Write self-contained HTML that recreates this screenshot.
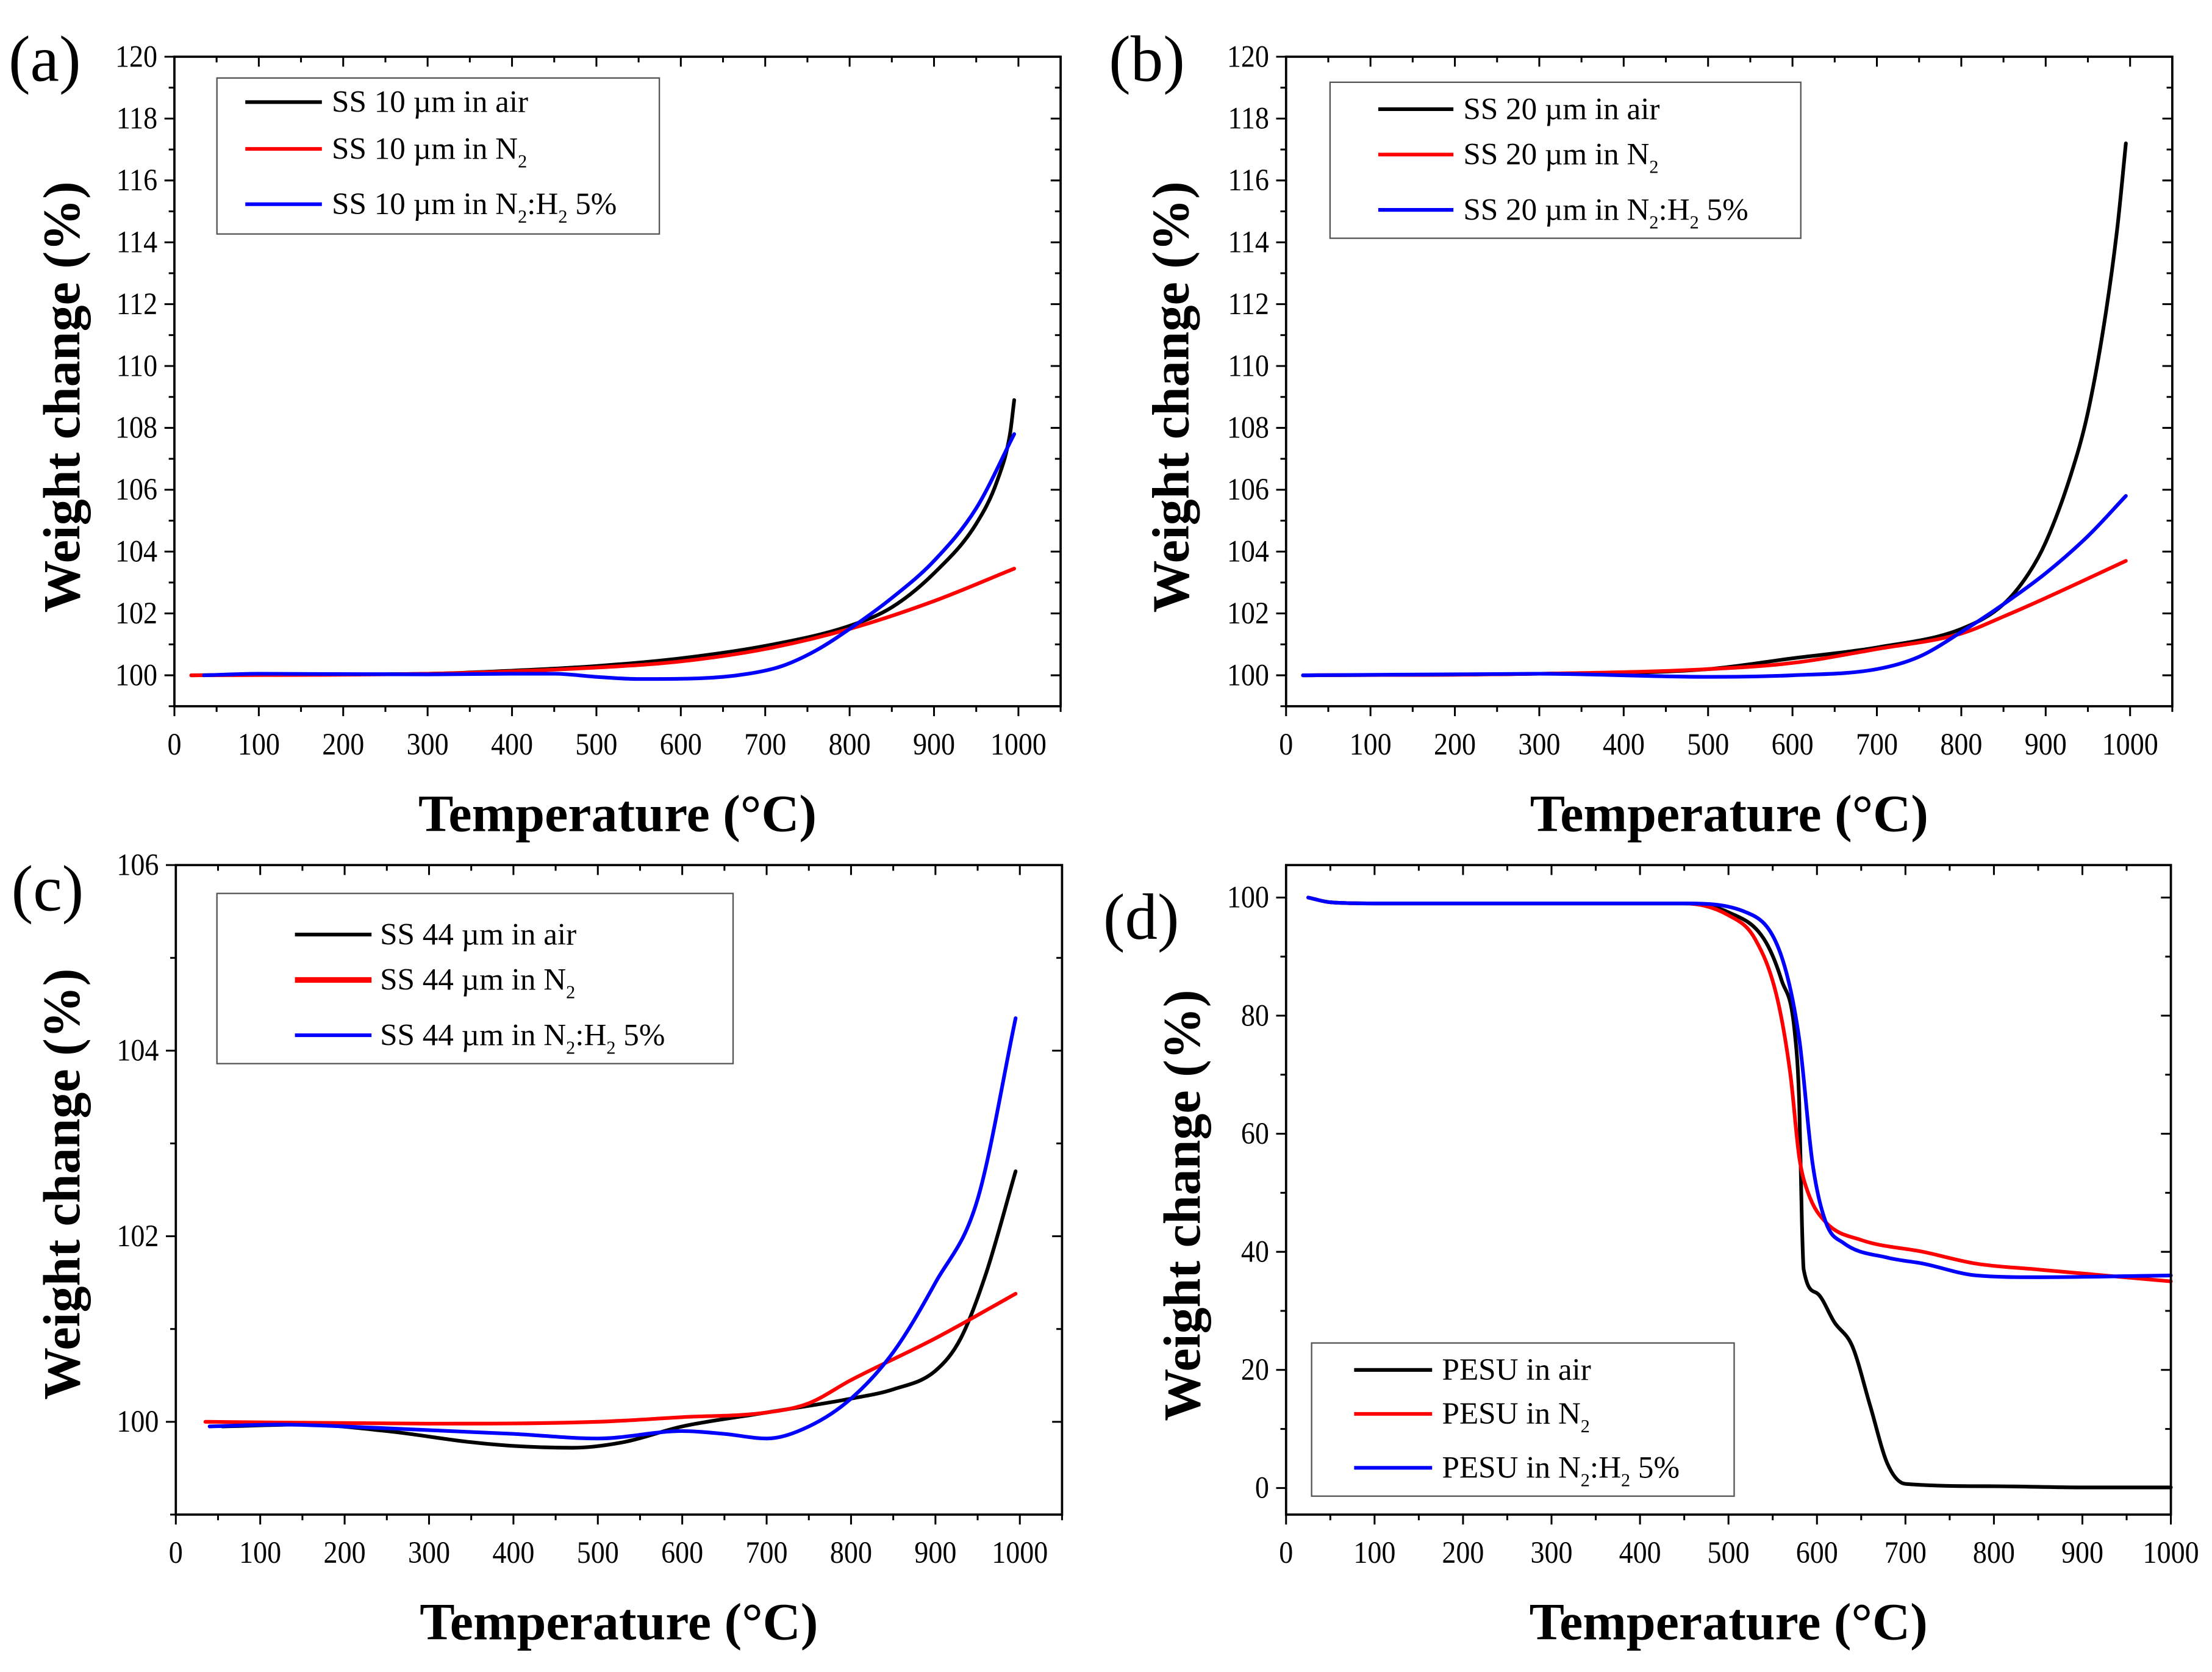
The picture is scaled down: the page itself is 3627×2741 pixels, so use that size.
<!DOCTYPE html>
<html><head><meta charset="utf-8"><style>
html,body{margin:0;padding:0;background:#fff;}
svg{display:block;}
text{font-family:"Liberation Serif",serif;fill:#000;}
</style></head><body>
<svg id="fig" width="3627" height="2741" viewBox="0 0 1560 1179" preserveAspectRatio="none" xmlns="http://www.w3.org/2000/svg"></svg>
<script>
// Panel (a) data
const aAirX=[20,100,300,400,500,600,700,800,850,900,950,975,990,995];
const aAirY=[100,100.02,100.05,100.15,100.3,100.55,100.95,101.6,102.2,103.3,104.9,106.3,107.8,108.9];
const aN2X=[20,300,500,600,700,800,900,995];
const aN2Y=[100,100.05,100.25,100.45,100.85,101.5,102.4,103.45];
const aH2X=[35,100,300,400,450,500,550,620,680,720,760,800,850,900,950,995];
const aH2Y=[100,100.05,100.03,100.05,100.05,99.95,99.88,99.9,100.05,100.3,100.8,101.5,102.5,103.7,105.4,107.8];
// Panel (b) data
const bAirX=[20,300,500,600,700,800,850,880,900,930,950,970,985,995];
const bAirY=[100,100.05,100.2,100.55,100.9,101.5,102.3,103.3,104.3,106.5,108.5,111.5,114.5,117.2];
const bN2X=[20,300,500,600,700,800,850,900,995];
const bN2Y=[100,100.05,100.2,100.4,100.85,101.35,101.9,102.5,103.7];
const bH2X=[20,300,500,600,700,750,800,850,900,950,995];
const bH2Y=[100,100.05,99.95,100,100.2,100.6,101.4,102.3,103.3,104.5,105.8];
// Panel (c) data
const cAirX=[55,150,250,350,400,470,530,600,700,800,850,900,930,960,995];
const cAirY=[99.95,99.97,99.9,99.78,99.74,99.72,99.78,99.95,100.1,100.25,100.35,100.55,100.9,101.6,102.7];
const cN2X=[35,300,500,600,700,750,800,900,995];
const cN2Y=[100,99.98,100,100.05,100.1,100.2,100.45,100.9,101.38];
const cH2X=[40,120,250,400,500,600,650,700,750,800,850,900,950,995];
const cH2Y=[99.95,99.97,99.93,99.87,99.82,99.9,99.87,99.82,99.95,100.25,100.75,101.5,102.4,104.35];
// Panel (d) data
const dAirX=[25,50,100,450,500,540,560,575,580,583,585,600,620,640,660,680,700,800,900,1000];
const dAirY=[100,99.2,99,99,97.5,93,86,77,65,45,37,33,28,24,14,4,0.7,0.3,0.1,0.1];
const dN2X=[25,50,100,450,500,530,555,570,580,590,610,650,720,780,850,1000];
const dN2Y=[100,99.2,99,99,97,93,83,70,56,50,45,42,40,38,37,35];
const dH2X=[25,50,100,450,520,560,580,595,610,630,680,720,780,850,1000];
const dH2Y=[100,99.2,99,99,97.5,90,76,55,45,41.5,39,38,36,35.7,36];
// Tick labels
const abYTicks=[100,102,104,106,108,110,112,114,116,118,120];
const cYTicks=[100,102,104,106];
const dYTicks=[0,20,40,60,80,100];
const xTicks=[0,100,200,300,400,500,600,700,800,900,1000];

const NS="http://www.w3.org/2000/svg";
const svg=document.getElementById('fig');
function mk(tag,attrs,parent){const e=document.createElementNS(NS,tag);for(const k in attrs)e.setAttribute(k,attrs[k]);(parent||svg).appendChild(e);return e;}

// monotone cubic path (Fritsch-Carlson) in screen coords
function monoPath(px,py){
  const n=px.length;
  if(n<2)return '';
  const d=[],m=[];
  for(let i=0;i<n-1;i++)d.push((py[i+1]-py[i])/(px[i+1]-px[i]));
  m[0]=d[0];m[n-1]=d[n-2];
  for(let i=1;i<n-1;i++){m[i]=(d[i-1]*d[i]<=0)?0:(d[i-1]+d[i])/2;}
  for(let i=0;i<n-1;i++){
    if(d[i]===0){m[i]=0;m[i+1]=0;continue;}
    const a=m[i]/d[i],b=m[i+1]/d[i],s=a*a+b*b;
    if(s>9){const t=3/Math.sqrt(s);m[i]=t*a*d[i];m[i+1]=t*b*d[i];}
  }
  let p='M'+px[0].toFixed(2)+','+py[0].toFixed(2);
  for(let i=0;i<n-1;i++){
    const h=(px[i+1]-px[i])/3;
    p+=' C'+(px[i]+h).toFixed(2)+','+(py[i]+m[i]*h).toFixed(2)+' '+(px[i+1]-h).toFixed(2)+','+(py[i+1]-m[i+1]*h).toFixed(2)+' '+px[i+1].toFixed(2)+','+py[i+1].toFixed(2);
  }
  return p;
}

function panel(p){
  const g=mk('g',{});
  
  
  const X=v=>p.x0+(v-p.xmin)/(p.xmax-p.xmin)*(p.x1-p.x0);
  const Y=v=>p.y1-(v-p.ymin)/(p.ymax-p.ymin)*(p.y1-p.y0);
  for(let v=p.xmin;v<=p.xmax+1e-9;v+=50){
    const major=Math.round(v)%100===0;
    const t=mk('line',{x1:X(v),x2:X(v),y1:p.y1,y2:p.y1+(major?7:4),stroke:'#000','stroke-width':1.3},g);
    
    const t2=mk('line',{x1:X(v),x2:X(v),y1:p.y0,y2:p.y0+(major?7:4),stroke:'#000','stroke-width':1.3},g);
    
  }
  xTicks.forEach(v=>{
    const t=mk('text',{x:X(v),y:p.y1+34,'text-anchor':'middle','font-size':22,transform:'translate('+X(v)+',0) scale(0.9,1) translate('+(-X(v))+',0)'},g);
    t.textContent=v;
    
  });
  for(let v=Math.ceil(p.ymin/p.minor)*p.minor;v<=p.ymax+1e-9;v+=p.minor){
    const major=Math.abs(v/p.major-Math.round(v/p.major))<1e-6;
    const t=mk('line',{x1:p.x0,x2:p.x0-(major?7:4),y1:Y(v),y2:Y(v),stroke:'#000','stroke-width':1.3},g);
    
    const t2=mk('line',{x1:p.x1,x2:p.x1-(major?7:4),y1:Y(v),y2:Y(v),stroke:'#000','stroke-width':1.3},g);
    
  }
  p.yTicks.forEach(v=>{
    const xr=p.x0-12;
    const t=mk('text',{x:xr,y:Y(v)+7,'text-anchor':'end','font-size':22,transform:'translate('+xr+',0) scale(0.9,1) translate('+(-xr)+',0)'},g);
    t.textContent=v;
    
  });
  p.series.forEach(s=>{
    const l=mk('path',{d:monoPath(s.x.map(X),s.y.map(Y)),fill:'none',stroke:s.c,'stroke-width':2.6,'stroke-linejoin':'round','stroke-linecap':'round'},g);
    
  });
  const f=mk('rect',{x:p.x0,y:p.y0,width:p.x1-p.x0,height:p.y1-p.y0,fill:'none',stroke:'#000','stroke-width':1.6},g);
  
  const xt=mk('text',{x:(p.x0+p.x1)/2,y:p.y1+88,'text-anchor':'middle','font-size':37,'font-weight':'bold'},g);
  xt.textContent='Temperature (°C)';
  
  const yt=mk('text',{x:0,y:0,'text-anchor':'middle','font-size':37,'font-weight':'bold',transform:'translate('+p.ytx+','+p.yty+') rotate(-90)'},g);
  yt.textContent='Weight change (%)';
  
  const pl=mk('text',{x:p.lx,y:p.ly,'font-size':46},g);
  pl.textContent='('+p.id+')';
  
  const L=p.leg;
  const lg=mk('g',{},g);
  
  mk('rect',{x:L.x,y:L.y,width:L.w,height:L.h,fill:'#fff',stroke:'#555','stroke-width':1},lg);
  p.series.forEach((s,i)=>{
    const e=mk('g',{},lg);
    
    mk('line',{x1:L.lx1,x2:L.lx2,y1:L.ys[i],y2:L.ys[i],stroke:s.c,'stroke-width':i===1&&p.id==='c'?4:2.6},e);
    const t=mk('text',{x:L.tx,y:L.ys[i]+7,'font-size':22},e);
    s.lab.forEach(part=>{
      const ts=mk('tspan',{},t);
      if(part.sub){ts.setAttribute('font-size','13');ts.setAttribute('dy','6');}
      else if(part.after){ts.setAttribute('dy','-6');}
      ts.textContent=part.t;
    });
  });
}
function labs(prefix){
  return [
    [{t:prefix+' in air'}],
    [{t:prefix+' in N'},{t:'2',sub:true}],
    [{t:prefix+' in N'},{t:'2',sub:true},{t:':H',after:true},{t:'2',sub:true},{t:' 5%',after:true}]
  ];
}
function ser(ax,ay,nx,ny,hx,hy,prefix){
  const L=labs(prefix);
  return [{x:ax,y:ay,c:'#000',name:'series-air',lab:L[0]},
          {x:nx,y:ny,c:'#ff0000',name:'series-n2',lab:L[1]},
          {x:hx,y:hy,c:'#0000ff',name:'series-n2-h2',lab:L[2]}];
}
panel({id:'a',x0:123,x1:748,y0:40,y1:498,xmin:0,xmax:1050,ymin:99,ymax:120,major:2,minor:1,yTicks:abYTicks,
  ytx:56,yty:280,lx:6,ly:57,
  leg:{x:153,y:55,w:312,h:110,lx1:173,lx2:227,tx:234,ys:[72,105,144]},
  series:ser(aAirX,aAirY,aN2X,aN2Y,aH2X,aH2Y,'SS 10 µm')});
panel({id:'b',x0:907,x1:1532,y0:40,y1:498,xmin:0,xmax:1050,ymin:99,ymax:120,major:2,minor:1,yTicks:abYTicks,
  ytx:838,yty:280,lx:782,ly:57,
  leg:{x:938,y:58,w:332,h:110,lx1:972,lx2:1025,tx:1032,ys:[77,109,148]},
  series:ser(bAirX,bAirY,bN2X,bN2Y,bH2X,bH2Y,'SS 20 µm')});
panel({id:'c',x0:124,x1:749,y0:610,y1:1068,xmin:0,xmax:1050,ymin:99,ymax:106,major:2,minor:1,yTicks:cYTicks,
  ytx:56,yty:835,lx:8,ly:642,
  leg:{x:153,y:630,w:364,h:120,lx1:208,lx2:262,tx:268,ys:[659,691,730]},
  series:ser(cAirX,cAirY,cN2X,cN2Y,cH2X,cH2Y,'SS 44 µm')});
panel({id:'d',x0:907,x1:1531,y0:610,y1:1068,xmin:0,xmax:1000,ymin:-4.5,ymax:105.5,major:20,minor:10,yTicks:dYTicks,
  ytx:846,yty:850,lx:778,ly:662,
  leg:{x:925,y:947,w:298,h:108,lx1:955,lx2:1010,tx:1017,ys:[966,997,1035]},
  series:ser(dAirX,dAirY,dN2X,dN2Y,dH2X,dH2Y,'PESU')});
</script>
</body></html>
